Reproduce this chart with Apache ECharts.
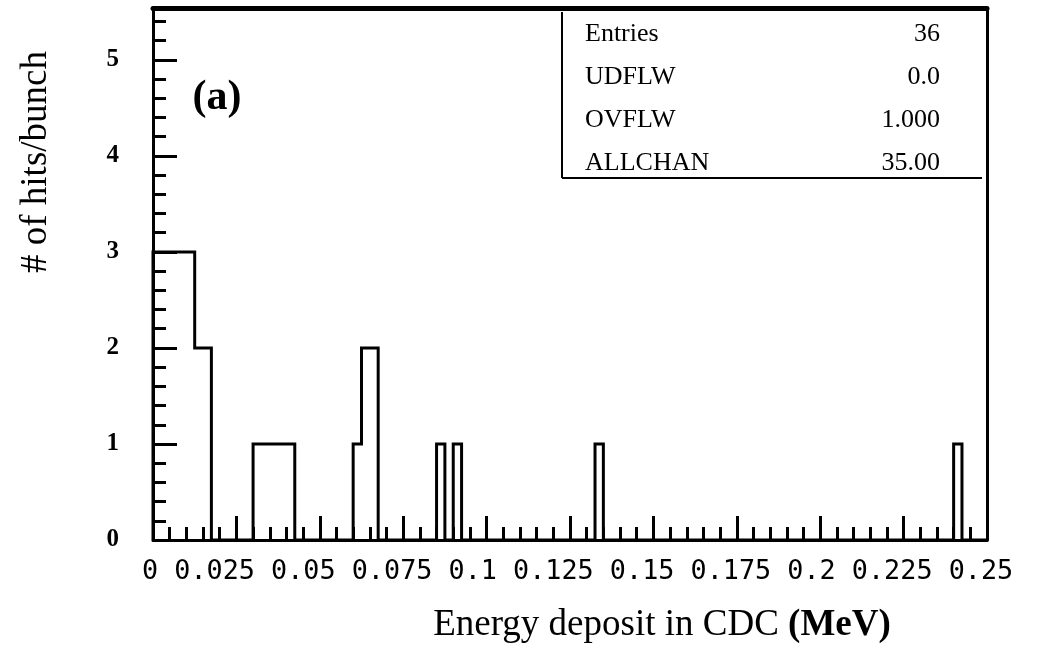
<!DOCTYPE html>
<html>
<head>
<meta charset="utf-8">
<script src="https://cdn.jsdelivr.net/npm/echarts@6/dist/echarts.min.js"></script>
<style>
  html, body { margin: 0; padding: 0; background: #fff; }
  #chart { width: 1045px; height: 655px; }
</style>
</head>
<body>
<div id="chart"></div>
<script>
// ---- data ----
const xTickLabels = ['0', '0.025', '0.05', '0.075', '0.1', '0.125', '0.15', '0.175', '0.2', '0.225', '0.25'];
const yTickLabels = ['0', '1', '2', '3', '4', '5'];
// histogram: non-empty bin runs (bin width 0.0025 MeV)
const binLo  = [0,      0.0125, 0.03,   0.06,   0.0625, 0.085,  0.09,   0.1325, 0.24];
const binHi  = [0.0125, 0.0175, 0.0425, 0.0625, 0.0675, 0.0875, 0.0925, 0.135,  0.2425];
const counts = [3,      2,      1,      1,      2,      1,      1,      1,      1];
const statNames  = ['Entries', 'UDFLW', 'OVFLW', 'ALLCHAN'];
const statValues = ['36', '0.0', '1.000', '35.00'];
const xTitle = 'Energy deposit in CDC ';
const xUnit = '(MeV)';
const yTitle = '# of hits/bunch';
const panelLabel = '(a)';

// ---- build step outline ----
const xMin = 0, xMax = 0.25, yMin = 0, yMax = 5.54;
const pts = [[xMin, 0]];
let prev = xMin;
for (let i = 0; i < counts.length; i++) {
  if (binLo[i] > prev + 1e-9) pts.push([prev, 0]);
  pts.push([binLo[i], counts[i]]);
  prev = binHi[i];
}
pts.push([prev, 0]);
pts.push([xMax, 0]);

const yMajor = yTickLabels.map(Number);
const yMinor = [];
for (let k = 1; k <= 27; k++) { if (k % 5 !== 0) yMinor.push(+(k * 0.2).toFixed(2)); }

const serif = '"Liberation Serif", "Times New Roman", serif';
const black = '#000';

const chart = echarts.init(document.getElementById('chart'), null, { renderer: 'canvas' });

const graphics = [
  // tick-label row (monospaced string, as in the original)
  { type: 'text', left: 142, top: 559, z: 10,
    style: { text: xTickLabels.join(' '), font: '26.8px "DejaVu Sans Mono", monospace', fill: black } },
  // x title
  { type: 'text', x: 662, y: 625, z: 10,
    style: { text: '{a|' + xTitle + '}{b|' + xUnit + '}', align: 'center', verticalAlign: 'middle',
      rich: { a: { fontFamily: serif, fontSize: 37, color: black },
              b: { fontFamily: serif, fontSize: 37, fontWeight: 'bold', color: black } } } },
  // y title
  { type: 'text', x: 36, y: 162, rotation: Math.PI / 2, z: 10,
    style: { text: yTitle, align: 'center', verticalAlign: 'middle', font: '37px ' + serif, fill: black } },
  // panel label
  { type: 'text', x: 217, y: 98, z: 10,
    style: { text: panelLabel, align: 'center', verticalAlign: 'middle', font: 'bold 42px ' + serif, fill: black } },
  // stats box lines
  { type: 'line', z: 10, shape: { x1: 562, y1: 12, x2: 562, y2: 178 }, style: { stroke: black, lineWidth: 2 } },
  { type: 'line', z: 10, shape: { x1: 562, y1: 178, x2: 982, y2: 178 }, style: { stroke: black, lineWidth: 2 } }
];
const rowY = [34, 77, 120, 163];
statNames.forEach((n, i) => {
  graphics.push({ type: 'text', x: 585, y: rowY[i], z: 10,
    style: { text: n, align: 'left', verticalAlign: 'middle', font: '26px ' + serif, fill: black } });
  graphics.push({ type: 'text', x: 940, y: rowY[i], z: 10,
    style: { text: statValues[i], align: 'right', verticalAlign: 'middle', font: '26px ' + serif, fill: black } });
});

const axisLine = (w) => ({ show: true, onZero: false, lineStyle: { color: black, width: w } });

chart.setOption({
  animation: false,
  backgroundColor: '#fff',
  grid: { left: 153, right: 58, top: 8, bottom: 115, containLabel: false },
  xAxis: [
    { type: 'value', min: xMin, max: xMax, interval: 0.025, position: 'bottom',
      axisLine: axisLine(3),
      axisTick: { show: true, inside: true, length: 24, lineStyle: { color: black, width: 3 } },
      minorTick: { show: true, splitNumber: 5, length: 13, lineStyle: { color: black, width: 3 } },
      axisLabel: { show: false }, splitLine: { show: false }, minorSplitLine: { show: false } },
    { type: 'value', min: xMin, max: xMax, position: 'top',
      axisLine: axisLine(5), axisTick: { show: false }, axisLabel: { show: false }, splitLine: { show: false } }
  ],
  yAxis: [
    { type: 'value', min: yMin, max: yMax, position: 'left',
      axisLine: axisLine(3),
      axisTick: { show: true, inside: true, length: 24, customValues: yMajor, lineStyle: { color: black, width: 3 } },
      axisLabel: { show: true, customValues: yMajor, margin: 34,
        formatter: (v) => yTickLabels[Math.round(v)],
        fontFamily: serif, fontSize: 25, fontWeight: 'bold', color: black },
      splitLine: { show: false } },
    { type: 'value', min: yMin, max: yMax, position: 'left',
      axisLine: { show: false },
      axisTick: { show: true, inside: true, length: 13, customValues: yMinor, lineStyle: { color: black, width: 3 } },
      axisLabel: { show: false }, splitLine: { show: false } },
    { type: 'value', min: yMin, max: yMax, position: 'right',
      axisLine: axisLine(3), axisTick: { show: false }, axisLabel: { show: false }, splitLine: { show: false } }
  ],
  series: [
    { type: 'line', xAxisIndex: 0, yAxisIndex: 0, step: 'end', data: pts,
      symbol: 'none', showSymbol: false, z: 5,
      lineStyle: { color: black, width: 3, join: 'miter' } }
  ],
  graphic: graphics
});
</script>
</body>
</html>
